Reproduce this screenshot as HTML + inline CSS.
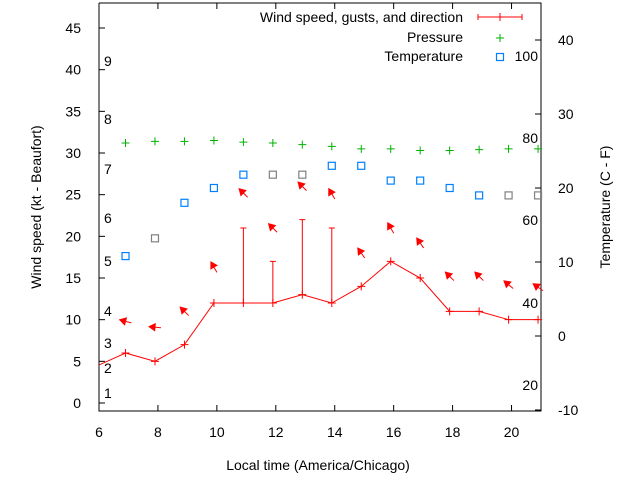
<!DOCTYPE html>
<html><head><meta charset="utf-8"><style>
body{margin:0;background:#fff}
text{font-family:"Liberation Sans",sans-serif;font-size:14px;fill:#000}
</style></head><body>
<svg id="c" width="640" height="480" xmlns="http://www.w3.org/2000/svg"></svg>
<script>
const hours=[6.9,7.9,8.9,9.9,10.9,11.9,12.9,13.9,14.9,15.9,16.9,17.9,18.9,19.9,20.9];
const wind=[6,5,7,12,12,12,13,12,14,17,15,11,11,10,10];
const windStart=[5.9,4.4];
const gustHours=[10.9,11.9,12.9,13.9];
const gusts=[21,17,22,21];
const pressure=[31.2,31.4,31.4,31.5,31.3,31.2,31.0,30.8,30.5,30.5,30.3,30.3,30.4,30.5,30.5];
const temps=[10.8,13.2,18,20,21.8,21.8,21.8,23,23,21,21,20,19,19,19];
const tempGray=[false,true,false,false,false,true,true,false,false,false,false,false,false,true,true];
const arrowY=[9.8,9.1,11,16.3,25.2,21,26,25.1,18,21,19.2,15.2,15.2,14.2,13.9];
const arrowAng=[165,175,135,120,135,135,135,120,125,120,125,135,135,140,145];
const xTicks=[6,8,10,12,14,16,18,20];
const yTicks=[0,5,10,15,20,25,30,35,40,45];
const y2Ticks=[-10,0,10,20,30,40];
const beaufort=[[1,393],[2,368],[3,343],[4,311],[5,261],[6,218],[7,169],[8,119],[9,61]];
const fahr=[[20,385],[40,303],[60,220],[80,138],[100,56]];

const L=99,R=541,T=3,B=411;
const X=h=>L+(h-6)*(R-L)/15;
const Y=v=>403-v*8.333;
const Y2=t=>336-t*7.4;
const svg=document.getElementById('c');
const NS='http://www.w3.org/2000/svg';
function mk(tag,attrs,parent){const e=document.createElementNS(NS,tag);for(const k in attrs)e.setAttribute(k,attrs[k]);(parent||svg).appendChild(e);return e;}
function txt(x,y,s,anchor,name){const t=mk('text',{x:x,y:y,'text-anchor':anchor||'start'});t.textContent=s;


return t;}

// axes
const frame=mk('path',{d:`M${L},${T}V${B}H${R}V${T}H${L}`,fill:'none',stroke:'#000','stroke-width':1});


xTicks.forEach(h=>{mk('path',{d:`M${X(h)},${B}v-6M${X(h)},${T}v6`,stroke:'#000'});txt(X(h),437,String(h),'middle','x-tick-label');});
yTicks.forEach(v=>{mk('path',{d:`M${L},${Y(v)}h6`,stroke:'#000'});txt(L-18,Y(v)+5,String(v),'end','y-tick-label');});
y2Ticks.forEach(t=>{mk('path',{d:`M${R},${Y2(t)}h-6`,stroke:'#000'});txt(R+17,Y2(t)+5,String(t),'start','y2-tick-label');});
beaufort.forEach(b=>txt(104,b[1]+5,String(b[0]),'start','beaufort-label'));
fahr.forEach(f=>txt(538,f[1]+5,String(f[0]),'end','fahrenheit-label'));
txt(318,470,'Local time (America/Chicago)','middle','x-axis-title');
const yt=txt(0,0,'Wind speed (kt - Beaufort)','middle','y-axis-title');yt.setAttribute('transform','translate(41,207) rotate(-90)');
const y2t=txt(0,0,'Temperature (C - F)','middle','y2-axis-title');y2t.setAttribute('transform','translate(610,207) rotate(-90)');

// wind line
let d=`M${X(windStart[0])},${Y(windStart[1])}`;
hours.forEach((h,i)=>d+=`L${X(h)},${Y(wind[i])}`);
const clip=mk('clipPath',{id:'cp'});mk('rect',{x:L,y:T,width:R-L,height:B-T},clip);
const wl=mk('path',{d:d,fill:'none',stroke:'#f00','stroke-width':1,'clip-path':'url(#cp)'});


hours.forEach((h,i)=>{const p=mk('path',{d:`M${X(h)-4},${Y(wind[i])}h8M${X(h)},${Y(wind[i])-4}v8`,stroke:'#f00'});

});
gustHours.forEach((h,i)=>{const w=wind[hours.indexOf(h)];const g=mk('path',{d:`M${X(h)},${Y(w)}V${Y(gusts[i])}M${X(h)-3},${Y(gusts[i])}h6`,stroke:'#f00'});

});
// arrows
hours.forEach((h,i)=>{const a=arrowAng[i]*Math.PI/180,cx=X(h),cy=Y(arrowY[i]);
const dx=Math.cos(a)*6,dy=-Math.sin(a)*6;
const hx=cx+dx,hy=cy+dy,tx=cx-dx,ty=cy-dy;
const ux=Math.cos(a),uy=-Math.sin(a);
const bx=hx-ux*6,by=hy-uy*6;
const g=mk('g',{});


mk('path',{d:`M${tx},${ty}L${hx},${hy}`,stroke:'#f00'},g);
mk('path',{d:`M${hx},${hy}L${bx-uy*3.5},${by+ux*3.5}L${bx+uy*3.5},${by-ux*3.5}Z`,fill:'#f00',stroke:'#f00'},g);});
// pressure
hours.forEach((h,i)=>{const p=mk('path',{d:`M${X(h)-4},${Y(pressure[i])}h8M${X(h)},${Y(pressure[i])-4}v8`,stroke:'#00b000'});

});
// temps
hours.forEach((h,i)=>{const r=mk('rect',{x:X(h)-3.5,y:Y2(temps[i])-3.5,width:7,height:7,fill:'none',stroke:tempGray[i]?'#808080':'#0080ff','stroke-width':1.2});

});
// legend
txt(463,22,'Wind speed, gusts, and direction','end','legend-wind');
mk('path',{d:'M478,17h44M478,14v6M522,14v6M500,13v8',stroke:'#f00'});
txt(463,42,'Pressure','end','legend-pressure');
mk('path',{d:'M496,38h8M500,34v8',stroke:'#00b000'});
txt(463,61,'Temperature','end','legend-temperature');
mk('rect',{x:496.5,y:53.5,width:7,height:7,fill:'none',stroke:'#0080ff','stroke-width':1.2});
</script>
</body></html>
